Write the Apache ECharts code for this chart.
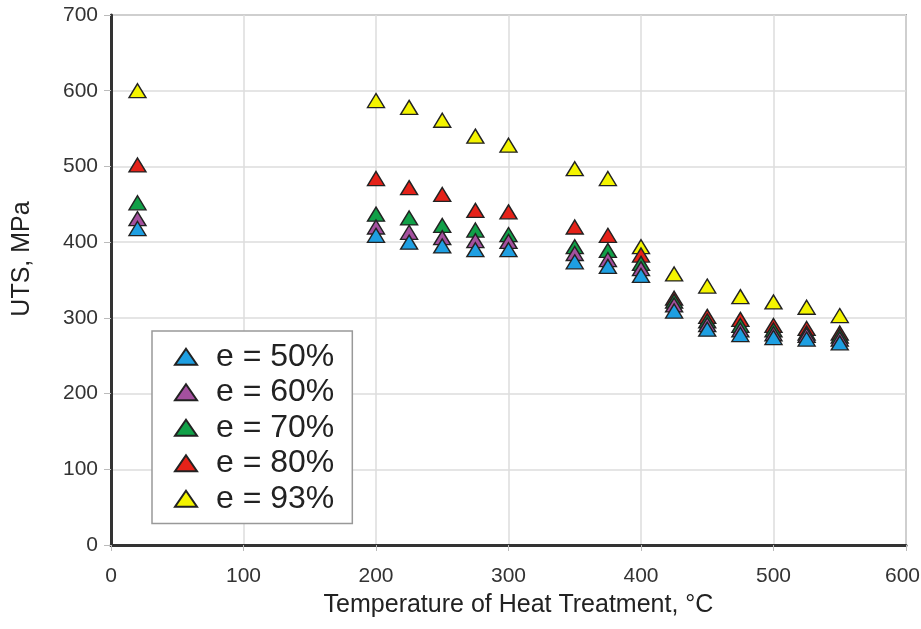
<!DOCTYPE html>
<html>
<head>
<meta charset="utf-8">
<script src="https://cdn.jsdelivr.net/npm/echarts@6/dist/echarts.min.js"></script>
<style>
  html, body { margin: 0; padding: 0; background: #fff; overflow: hidden; }
  #chart { width: 921px; height: 629px; }
</style>
</head>
<body>
<div id="chart"></div>
<script>
// Heat-treatment temperature (°C)
const temperatures = [20, 200, 225, 250, 275, 300, 350, 375, 400, 425, 450, 475, 500, 525, 550];

// Ultimate tensile strength (MPa) for each strain level e
const uts50 = [418, 409, 400, 395, 390, 390, 374, 368, 356, 309, 285, 278, 274, 272, 267];
const uts60 = [431, 420, 413, 406, 402, 401, 385, 377, 365, 317, 291, 284, 279, 277, 272];
const uts70 = [452, 437, 432, 422, 416, 410, 394, 389, 372, 322, 296, 290, 284, 280, 276];
const uts80 = [502, 484, 472, 463, 442, 440, 420, 409, 383, 326, 302, 298, 290, 286, 280];
const uts93 = [600, 587, 578, 561, 540, 528, 497, 484, 394, 358, 342, 328, 321, 314, 303];

const seriesNames = ['e = 50%', 'e = 60%', 'e = 70%', 'e = 80%', 'e = 93%'];
const seriesValues = [uts50, uts60, uts70, uts80, uts93];
const seriesColors = ['#1e9fe2', '#a4509e', '#11a048', '#e52219', '#f4f400'];

const xTicks = [0, 100, 200, 300, 400, 500, 600];
const yTicks = [0, 100, 200, 300, 400, 500, 600, 700];

const font = 'Liberation Sans, Arial, sans-serif';
const xMax = xTicks[xTicks.length - 1];

// Highest strain drawn first so lower strains sit on top
const series = [];
for (let i = seriesNames.length - 1; i >= 0; i--) {
  series.push({
    name: seriesNames[i],
    type: 'scatter',
    symbol: 'triangle',
    symbolSize: [17, 14],
    data: temperatures.map((t, k) => [t, seriesValues[i][k]]),
    itemStyle: { color: seriesColors[i], borderColor: '#222', borderWidth: 1.4, opacity: 1 },
    emphasis: { disabled: true }
  });
}

const chart = echarts.init(document.getElementById('chart'), null, { renderer: 'canvas' });
chart.setOption({
  animation: false,
  backgroundColor: '#fff',
  grid: {
    left: 111, right: 15, top: 15, bottom: 84,
    outerBoundsMode: 'none',
    containLabel: false,
    show: true, borderColor: '#a8a8a8', borderWidth: 2, backgroundColor: 'transparent'
  },
  legend: {
    data: seriesNames,
    orient: 'vertical',
    left: 152, top: 331,
    icon: 'triangle',
    itemWidth: 22, itemHeight: 16,
    itemGap: 0,
    padding: [8, 18, 7, 22],
    backgroundColor: '#fff',
    borderColor: '#999', borderWidth: 1.5,
    textStyle: { fontFamily: font, fontSize: 32, color: '#222', lineHeight: 35.5, padding: [0, 0, 0, 14] }
  },
  xAxis: {
    type: 'value',
    min: xTicks[0], max: xMax, interval: 100,
    name: 'Temperature of Heat Treatment, °C',
    nameLocation: 'middle', nameGap: 48,
    nameTextStyle: { fontFamily: font, fontSize: 25, color: '#222', padding: [0, 0, 0, 20] },
    axisLine: { show: true, lineStyle: { color: '#333', width: 3 } },
    axisTick: { show: true, length: 6, lineStyle: { color: '#bbb' } },
    axisLabel: {
      fontFamily: font, fontSize: 21, color: '#333', margin: 21,
      // keep the last label inside the page edge
      formatter: v => (v === xMax ? '{edge|' + v + '}' : String(v)),
      rich: { edge: { fontFamily: font, fontSize: 21, color: '#333', padding: [0, 7, 0, 0] } }
    },
    splitLine: { show: true, lineStyle: { color: '#ddd', width: 1.5 } }
  },
  yAxis: {
    type: 'value',
    min: yTicks[0], max: yTicks[yTicks.length - 1], interval: 100,
    name: 'UTS, MPa',
    nameLocation: 'middle', nameGap: 76,
    nameTextStyle: { fontFamily: font, fontSize: 25, color: '#222', padding: [0, 0, 0, 42] },
    axisLine: { show: true, lineStyle: { color: '#333', width: 3 } },
    axisTick: { show: true, length: 7, lineStyle: { color: '#bbb' } },
    axisLabel: { fontFamily: font, fontSize: 21, color: '#333', margin: 13 },
    splitLine: { show: true, lineStyle: { color: '#ddd', width: 1.5 } }
  },
  series: series
});
</script>
</body>
</html>
